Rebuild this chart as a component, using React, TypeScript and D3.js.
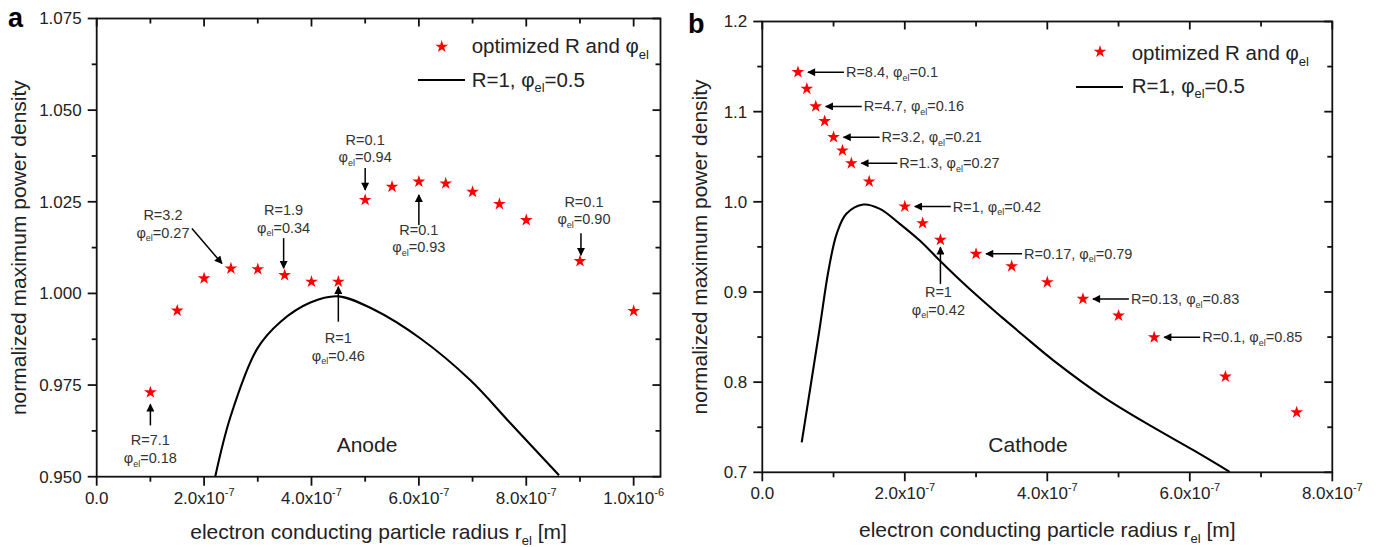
import React from "react";
import * as d3 from "d3";

// ---------- DATA ----------
// Panel a (Anode)
const anodeStarR = [1.0e-7, 1.5e-7, 2.0e-7, 2.5e-7, 3.0e-7, 3.5e-7, 4.0e-7, 4.5e-7, 5.0e-7, 5.5e-7, 6.0e-7, 6.5e-7, 7.0e-7, 7.5e-7, 8.0e-7, 9.0e-7, 1.0e-6];
const anodeStarV = [0.973, 0.9953, 1.0041, 1.0068, 1.0066, 1.005, 1.0032, 1.0032, 1.0255, 1.0291, 1.0305, 1.03, 1.0277, 1.0244, 1.02, 1.0088, 0.9952];
const anodeCurveR = [2.207e-7, 2.49e-7, 2.985e-7, 3.42e-7, 3.98e-7, 4.5e-7, 5.16e-7, 6.03e-7, 6.96e-7, 7.71e-7, 8.61e-7];
const anodeCurveV = [0.95, 0.9663, 0.9848, 0.9922, 0.9975, 0.9992, 0.9956, 0.9877, 0.9763, 0.9645, 0.9504];
const anodeXTicks = [0, 2e-7, 4e-7, 6e-7, 8e-7, 1e-6];
const anodeYTicks = [0.95, 0.975, 1.0, 1.025, 1.05, 1.075];

// Panel b (Cathode)
const cathodeStarR = [0.5e-7, 0.625e-7, 0.75e-7, 0.875e-7, 1.0e-7, 1.125e-7, 1.25e-7, 1.5e-7, 2.0e-7, 2.25e-7, 2.5e-7, 3.0e-7, 3.5e-7, 4.0e-7, 4.5e-7, 5.0e-7, 5.5e-7, 6.5e-7, 7.5e-7];
const cathodeStarV = [1.1438, 1.1254, 1.1058, 1.0895, 1.0717, 1.0569, 1.0428, 1.0225, 0.9948, 0.9763, 0.9578, 0.9423, 0.9285, 0.9108, 0.8923, 0.8738, 0.8497, 0.8061, 0.7665];
const cathodeCurveR = [0.553e-7, 0.8e-7, 0.929e-7, 1.044e-7, 1.18e-7, 1.42e-7, 1.65e-7, 1.93e-7, 2.21e-7, 2.49e-7, 2.77e-7, 3.06e-7, 3.34e-7, 3.66e-7, 4.08e-7, 4.79e-7, 5.49e-7, 6.05e-7, 6.56e-7];
const cathodeCurveV = [0.7332, 0.8572, 0.9238, 0.9645, 0.9867, 0.997, 0.9922, 0.9756, 0.957, 0.9349, 0.9136, 0.8927, 0.8734, 0.852, 0.8245, 0.7835, 0.7498, 0.7245, 0.7005];
const cathodeXTicks = [0, 2e-7, 4e-7, 6e-7, 8e-7];
const cathodeYTicks = [0.7, 0.8, 0.9, 1.0, 1.1, 1.2];

// Annotation labels (R, phi_el) attached to star indices
const anodeNotes = [
  { idx: 0, R: "7.1", phi: "0.18", tail: [0, 33], tip: [0, 12], text: [0, 53] },
  { idx: 3, R: "3.2", phi: "0.27", tail: [-39, -40], tip: [-9, -5], text: [-68, -48.3] },
  { idx: 5, R: "1.9", phi: "0.34", tail: [-1, -37], tip: [-1, -7], text: [-1, -60] },
  { idx: 7, R: "1", phi: "0.46", tail: [0, 40], tip: [0, 5], text: [0, 61.6] },
  { idx: 8, R: "0.1", phi: "0.94", tail: [0, -32], tip: [0, -10], text: [0, -55] },
  { idx: 10, R: "0.1", phi: "0.93", tail: [0, 43.3], tip: [0, 13.3], text: [0, 53.3] },
  { idx: 15, R: "0.1", phi: "0.90", tail: [1, -28], tip: [1, -6], text: [4, -54.3] },
];
const cathodeRightNotes = [
  { idx: 0, R: "8.4", phi: "0.1" },
  { idx: 2, R: "4.7", phi: "0.16" },
  { idx: 4, R: "3.2", phi: "0.21" },
  { idx: 6, R: "1.3", phi: "0.27" },
  { idx: 8, R: "1", phi: "0.42" },
  { idx: 11, R: "0.17", phi: "0.79" },
  { idx: 14, R: "0.13", phi: "0.83" },
  { idx: 16, R: "0.1", phi: "0.85" },
];
const cathodeStackNotes = [
  { idx: 10, R: "1", phi: "0.42", tail: [0, 44], tip: [0, 7.4], text: [-2, 57.4] },
];

// ---------- STYLE ----------
const FONT = '"Liberation Sans", Arial, Helvetica, sans-serif';
const AX = "#111";
const TXT = "#222";
const NOTE = "#333";
const RED = "#ff0000";

function sciLabel(v: number) {
  if (v === 0) return { m: "0.0", e: null as string | null };
  const e = Math.floor(Math.log10(v) + 1e-9);
  const m = v / Math.pow(10, e);
  return { m: m.toFixed(1), e: String(e) };
}

const PhiSpan = ({ val, size }: { val: string; size: number }) => (
  <>
    <tspan>φ</tspan>
    <tspan fontSize={size * 0.62} dy={size * 0.25}>el</tspan>
    <tspan dy={-size * 0.25}>{"=" + val}</tspan>
  </>
);

type PanelProps = {
  id: string;
  left: number; right: number; top: number; bottom: number;
  xDomain: [number, number]; yDomain: [number, number];
  xTicks: number[]; xMinor: number;
  yTicks: number[]; yMinor: number; yDec: number;
  starR: number[]; starV: number[];
  curveR: number[]; curveV: number[];
  letter: string; letterX: number; letterY: number;
  region: string; regionX: number; regionY: number;
  legendStar: [number, number]; legendTextX: number; legendY1: number;
  legendLine: [number, number, number]; legendY2: number;
  yTitleX: number; xTitleY: number;
  stackNotes: any[]; rightNotes: any[];
};

function Panel(p: PanelProps) {
  const x = d3.scaleLinear().domain(p.xDomain).range([p.left, p.right]);
  const y = d3.scaleLinear().domain(p.yDomain).range([p.bottom, p.top]);
  const pts = p.curveR.map((r, i) => [r, p.curveV[i]] as [number, number]);
  const line = d3.line<[number, number]>().x(d => x(d[0])).y(d => y(d[1])).curve(d3.curveCatmullRom.alpha(0.5));
  const starPath = d3.symbol().type(d3.symbolStar).size(50)() as string;
  const eps = 1e-12;
  const xMinor = d3.range(p.xDomain[0], p.xDomain[1] + eps, p.xMinor).filter(v => !p.xTicks.some(t => Math.abs(t - v) < 1e-12));
  const yMinor = d3.range(p.yDomain[0], p.yDomain[1] + 1e-9, p.yMinor).filter(v => !p.yTicks.some(t => Math.abs(t - v) < 1e-9));
  const major = 9, minor = 5, inMajor = 8, inMinor = 5;
  const sw = 1.8;
  const noteSize = 14.5;
  const lh = 17.5;
  const starXY = (i: number) => [x(p.starR[i]), y(p.starV[i])];

  return (
    <g>
      <defs>
        <clipPath id={"clip-" + p.id}>
          <rect x={p.left} y={p.top} width={p.right - p.left} height={p.bottom - p.top} />
        </clipPath>
      </defs>
      <path d={line(pts) as string} fill="none" stroke="#000" strokeWidth={2.1} clipPath={`url(#clip-${p.id})`} />
      {p.starR.map((r, i) => (
        <path key={i} d={starPath} transform={`translate(${x(r)},${y(p.starV[i])})`} fill={RED} />
      ))}
      <rect x={p.left} y={p.top} width={p.right - p.left} height={p.bottom - p.top} fill="none" stroke={AX} strokeWidth={sw} />
      {p.xTicks.map((t, i) => (
        <g key={"xt" + i}>
          <line x1={x(t)} x2={x(t)} y1={p.bottom} y2={p.bottom + major} stroke={AX} strokeWidth={sw} />
          <line x1={x(t)} x2={x(t)} y1={p.top} y2={p.top + inMajor} stroke={AX} strokeWidth={sw} />
        </g>
      ))}
      {xMinor.map((t, i) => (
        <g key={"xm" + i}>
          <line x1={x(t)} x2={x(t)} y1={p.bottom} y2={p.bottom + minor} stroke={AX} strokeWidth={sw} />
          <line x1={x(t)} x2={x(t)} y1={p.top} y2={p.top + inMinor} stroke={AX} strokeWidth={sw} />
        </g>
      ))}
      {p.yTicks.map((t, i) => (
        <g key={"yt" + i}>
          <line x1={p.left - major} x2={p.left} y1={y(t)} y2={y(t)} stroke={AX} strokeWidth={sw} />
          <line x1={p.right - inMajor} x2={p.right} y1={y(t)} y2={y(t)} stroke={AX} strokeWidth={sw} />
        </g>
      ))}
      {yMinor.map((t, i) => (
        <g key={"ym" + i}>
          <line x1={p.left - minor} x2={p.left} y1={y(t)} y2={y(t)} stroke={AX} strokeWidth={sw} />
          <line x1={p.right - inMinor} x2={p.right} y1={y(t)} y2={y(t)} stroke={AX} strokeWidth={sw} />
        </g>
      ))}
      {p.xTicks.map((t, i) => {
        const s = sciLabel(t);
        return (
          <text key={"xl" + i} x={x(t)} y={p.bottom + 27} textAnchor="middle" fontSize={17} fill={TXT} fontFamily={FONT}>
            {s.m}
            {s.e !== null && (
              <>
                <tspan>x10</tspan>
                <tspan fontSize={11} dy={-8}>{s.e}</tspan>
              </>
            )}
          </text>
        );
      })}
      {p.yTicks.map((t, i) => (
        <text key={"yl" + i} x={p.left - 15} y={y(t)} dy="0.35em" textAnchor="end" fontSize={17} fill={TXT} fontFamily={FONT}>
          {t.toFixed(p.yDec)}
        </text>
      ))}
      <text transform={`translate(${p.yTitleX},${(p.top + p.bottom) / 2}) rotate(-90)`} textAnchor="middle" fontSize={21} fill={TXT} fontFamily={FONT}>
        normalized maximum power density
      </text>
      <text x={(p.left + p.right) / 2} y={p.xTitleY} textAnchor="middle" fontSize={21} fill={TXT} fontFamily={FONT}>
        electron conducting particle radius r
        <tspan fontSize={13} dy={6}>el</tspan>
        <tspan dy={-6}> [m]</tspan>
      </text>
      <text x={p.letterX} y={p.letterY} fontSize={27} fontWeight="bold" fill="#000" fontFamily={FONT}>{p.letter}</text>
      <text x={p.regionX} y={p.regionY} fontSize={21} fill={TXT} fontFamily={FONT}>{p.region}</text>
      <path d={starPath} transform={`translate(${p.legendStar[0]},${p.legendStar[1]})`} fill={RED} />
      <text x={p.legendTextX} y={p.legendY1} fontSize={20.5} fill={TXT} fontFamily={FONT}>
        optimized R and φ<tspan fontSize={13} dy={6}>el</tspan>
      </text>
      <line x1={p.legendLine[0]} x2={p.legendLine[1]} y1={p.legendLine[2]} y2={p.legendLine[2]} stroke="#000" strokeWidth={2.1} />
      <text x={p.legendTextX} y={p.legendY2} fontSize={20.5} fill={TXT} fontFamily={FONT}>
        R=1, <PhiSpan val="0.5" size={20.5} />
      </text>
      {p.stackNotes.map((n, k) => {
        const [sx, sy] = starXY(n.idx);
        return (
          <g key={"sn" + k}>
            <line x1={sx + n.tail[0]} y1={sy + n.tail[1]} x2={sx + n.tip[0]} y2={sy + n.tip[1]} stroke="#000" strokeWidth={1.5} markerEnd="url(#arrowhead)" />
            <text x={sx + n.text[0]} y={sy + n.text[1]} textAnchor="middle" fontSize={noteSize} fill={NOTE} fontFamily={FONT}>
              {"R=" + n.R}
            </text>
            <text x={sx + n.text[0]} y={sy + n.text[1] + lh} textAnchor="middle" fontSize={noteSize} fill={NOTE} fontFamily={FONT}>
              <PhiSpan val={n.phi} size={noteSize} />
            </text>
          </g>
        );
      })}
      {p.rightNotes.map((n, k) => {
        const [sx, sy] = starXY(n.idx);
        return (
          <g key={"rn" + k}>
            <line x1={sx + 46} y1={sy} x2={sx + 10} y2={sy} stroke="#000" strokeWidth={1.5} markerEnd="url(#arrowhead)" />
            <text x={sx + 48} y={sy + 5} fontSize={noteSize} fill={NOTE} fontFamily={FONT}>
              {"R=" + n.R + ", "}
              <PhiSpan val={n.phi} size={noteSize} />
            </text>
          </g>
        );
      })}
    </g>
  );
}

export default function App() {
  return (
    <svg width={1377} height={547} style={{ position: "absolute", left: 0, top: 0, background: "#fff" }} fontFamily={FONT}>
      <defs>
        <marker id="arrowhead" viewBox="0 0 10 10" refX="9" refY="5" markerWidth="9" markerHeight="8" markerUnits="userSpaceOnUse" orient="auto">
          <path d="M0,0 L10,5 L0,10 z" fill="#000" />
        </marker>
      </defs>
      <rect width={1377} height={547} fill="#fff" />
      <Panel
        id="a"
        left={96.7} right={660.5} top={18.5} bottom={476.7}
        xDomain={[0, 1.05e-6]} yDomain={[0.95, 1.075]}
        xTicks={anodeXTicks} xMinor={1e-7}
        yTicks={anodeYTicks} yMinor={0.0125} yDec={3}
        starR={anodeStarR} starV={anodeStarV}
        curveR={anodeCurveR} curveV={anodeCurveV}
        letter="a" letterX={8} letterY={27}
        region="Anode" regionX={336.7} regionY={451.7}
        legendStar={[441.7, 46.7]} legendTextX={471.7} legendY1={53}
        legendLine={[418, 465, 80]} legendY2={87}
        yTitleX={25.5} xTitleY={539}
        stackNotes={anodeNotes} rightNotes={[]}
      />
      <Panel
        id="b"
        left={762.3} right={1332.3} top={21.5} bottom={472.3}
        xDomain={[0, 8e-7]} yDomain={[0.7, 1.2]}
        xTicks={cathodeXTicks} xMinor={1e-7}
        yTicks={cathodeYTicks} yMinor={0.05} yDec={1}
        starR={cathodeStarR} starV={cathodeStarV}
        curveR={cathodeCurveR} curveV={cathodeCurveV}
        letter="b" letterX={688} letterY={33}
        region="Cathode" regionX={988.3} regionY={451.7}
        legendStar={[1100, 51.7]} legendTextX={1131.7} legendY1={60}
        legendLine={[1076, 1123, 87]} legendY2={93}
        yTitleX={706.5} xTitleY={537}
        stackNotes={cathodeStackNotes} rightNotes={cathodeRightNotes}
      />
    </svg>
  );
}
